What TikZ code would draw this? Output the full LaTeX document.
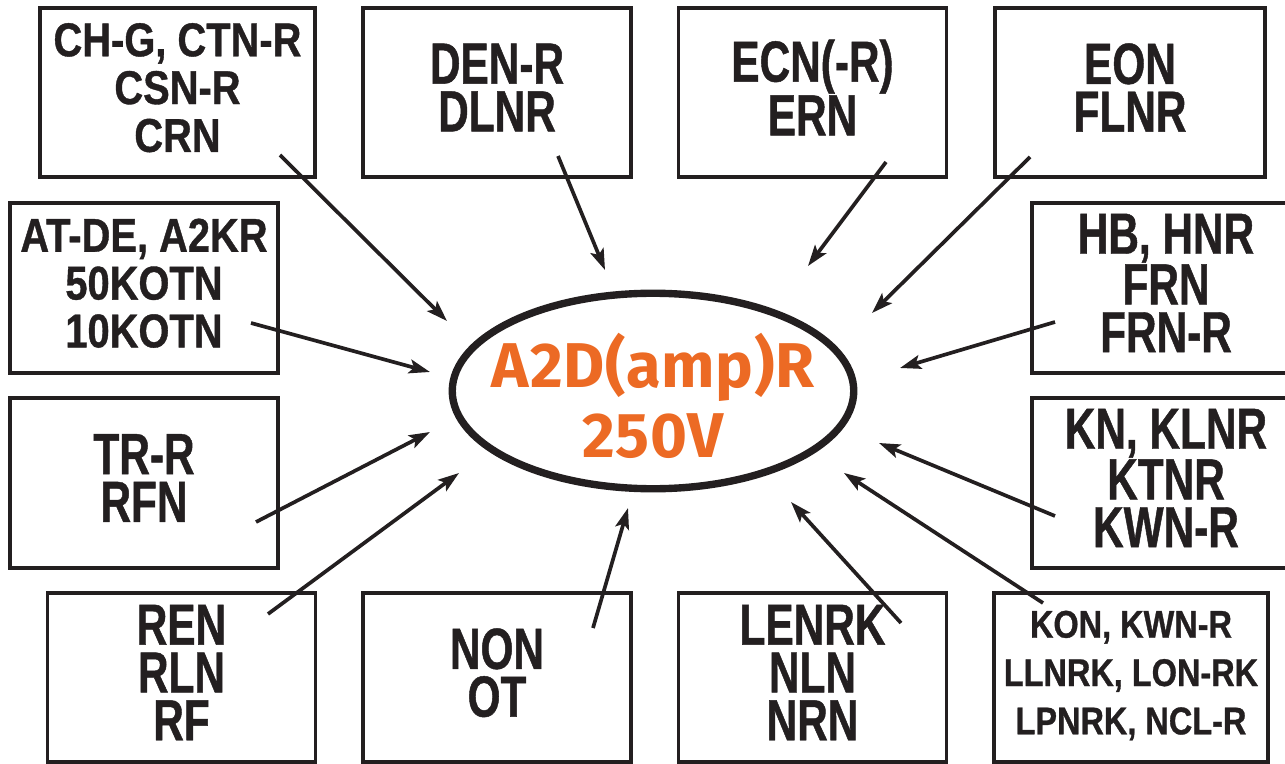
\documentclass[tikz,border=0pt]{standalone}
\usepackage{fontspec}
\setmainfont{Liberation Sans}
\newfontfamily\boxfont{Liberation Sans}[FakeStretch=0.73, FakeBold=0.8]
\newfontfamily\densefont{Liberation Sans}[FakeStretch=0.84, FakeBold=0.8]
\newfontfamily\hubfont{Fira Sans}[LetterSpace=1]
\usepackage{tikz}
\usetikzlibrary{arrows.meta, shapes.geometric}
\definecolor{inkBlack}{RGB}{35,31,32}
\definecolor{ampOrange}{RGB}{236,106,36}

\begin{document}
\begin{tikzpicture}[
    >={Stealth[length=4.2mm, width=2.8mm, inset=0.9mm]},
    box/.style={
        draw=inkBlack,
        line width=2.1pt,
        align=center,
        text=inkBlack,
        minimum width=5.36cm,
        minimum height=3.38cm,
        inner sep=0pt,
        text depth=0.2cm,
        font=\boxfont\bfseries\fontsize{33}{27.2}\selectfont
    },
    densebox/.style={box, font=\densefont\bfseries\fontsize{27}{27.2}\selectfont},
    smallbox/.style={box, font=\densefont\bfseries\fontsize{22}{27.5}\selectfont},
    hub/.style={
        ellipse,
        draw=inkBlack,
        line width=4.2pt,
        minimum width=8.03cm,
        minimum height=3.91cm,
        inner sep=0pt
    },
    hubtext/.style={
        align=center,
        inner sep=0pt,
        text=ampOrange,
        font=\hubfont\bfseries\fontsize{36}{40}\selectfont
    },
    flow/.style={->, line width=2.1pt, draw=inkBlack}
]
\useasboundingbox (0,0) rectangle (25.7,-15.28);

\node[hub] (hub) at (13.06,-7.82) {};
\node[hubtext] (hublabel) at ([yshift=-0.1cm]hub.center) {A2D(amp)R\\250V};

% top row
\node[densebox, minimum width=5.5cm] (chg) at (3.55,-1.85) {CH-G, CTN-R\\CSN-R\\CRN};
\node[box] (den) at (9.94,-1.85) {DEN-R\\DLNR};
\node[box] (ecn) at (16.25,-1.85) {ECN(-R)\\ERN};
\node[box, minimum width=5.4cm] (eon) at (22.60,-1.85) {EON\\FLNR};

% sides
\node[densebox, minimum height=3.4cm] (atde) at (2.88,-5.76) {AT-DE, A2KR\\50KOTN\\10KOTN};
\node[box, minimum height=3.4cm] (trr) at (2.88,-9.66) {TR-R\\RFN};
\node[box, minimum height=3.4cm] (hb) at (23.32,-5.76) {HB, HNR\\FRN\\FRN-R};
\node[box, minimum height=3.4cm] (kn) at (23.32,-9.66) {KN, KLNR\\KTNR\\KWN-R};

% bottom row
\node[box] (ren) at (3.63,-13.55) {REN\\RLN\\RF};
\node[box] (non) at (9.94,-13.55) {NON\\OT};
\node[box] (lenrk) at (16.25,-13.55) {LENRK\\NLN\\NRN};
\node[smallbox, minimum width=5.48cm] (kon) at (22.62,-13.55) {KON, KWN-R\\LLNRK, LON-RK\\LPNRK, NCL-R};

% arrows into the hub
\draw[flow] ([shift={(2.05,-1.25)}]chg.center) -- ([shift={(-4.12,1.40)}]hub.center);
\draw[flow] ([shift={(1.22,-1.27)}]den.center) -- ([shift={(-0.96,2.42)}]hub.center);
\draw[flow] ([shift={(1.47,-1.39)}]ecn.center) -- ([shift={(3.10,2.50)}]hub.center);
\draw[flow] ([shift={(-2.00,-1.29)}]eon.center) -- ([shift={(4.38,1.56)}]hub.center);
\draw[flow] ([shift={(2.14,-0.70)}]atde.center) -- ([shift={(-4.46,0.38)}]hub.center);
\draw[flow] ([shift={(-2.22,-0.68)}]hb.center) -- ([shift={(4.94,0.46)}]hub.center);
\draw[flow] ([shift={(2.24,-0.78)}]trr.center) -- ([shift={(-4.46,-0.82)}]hub.center);
\draw[flow] ([shift={(-2.22,-0.66)}]kn.center) -- ([shift={(4.52,-1.04)}]hub.center);
\draw[flow] ([shift={(1.73,1.27)}]ren.center) -- ([shift={(-3.88,-1.64)}]hub.center);
\draw[flow] ([shift={(1.92,0.99)}]non.center) -- ([shift={(-0.50,-2.34)}]hub.center);
\draw[flow] ([shift={(1.77,1.09)}]lenrk.center) -- ([shift={(2.76,-2.22)}]hub.center);
\draw[flow] ([shift={(-1.76,1.49)}]kon.center) -- ([shift={(3.82,-1.64)}]hub.center);

\end{tikzpicture}
\end{document}
